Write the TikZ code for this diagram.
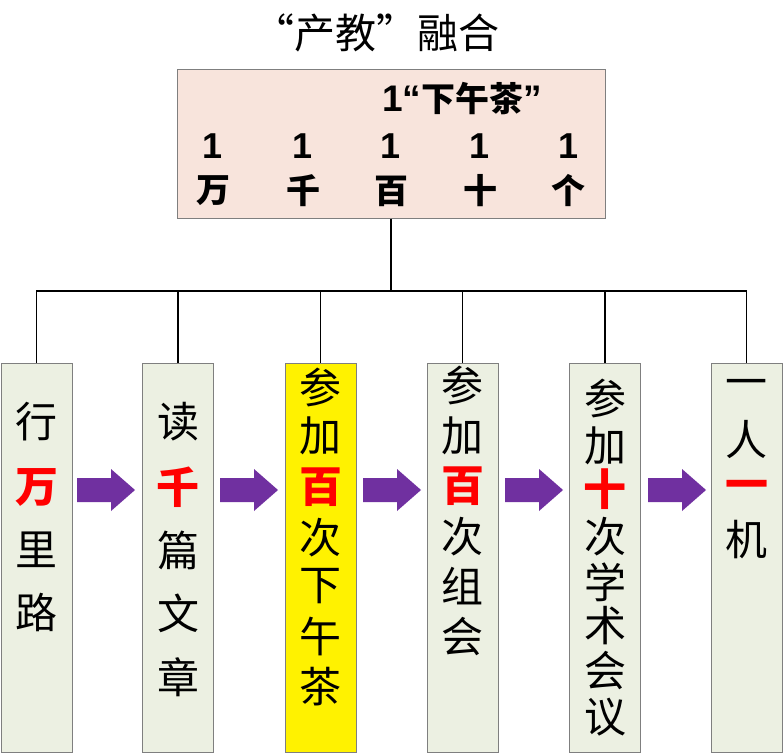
\documentclass[tikz,border=0pt]{standalone}
\usepackage{fontspec}
\setmainfont{Liberation Sans}
\newfontfamily\cjk{Noto Sans CJK SC}
\definecolor{topfill}{HTML}{F8E4DC}
\definecolor{colfill}{HTML}{ECF0E2}
\definecolor{arrowpurple}{HTML}{7030A0}
\definecolor{boxline}{HTML}{7F7F7F}
\begin{document}
\begin{tikzpicture}[x=1pt,y=-1pt,
  topbox/.style={draw=boxline,line width=1pt,fill=topfill,minimum width=428pt,minimum height=148pt,inner sep=0},
  colbox/.style={draw=boxline,line width=1pt,fill=colfill,minimum width=71pt,minimum height=389pt,inner sep=0},
  hlbox/.style={colbox,fill=yellow},
  chk/.style={inner sep=0,font=\cjk\fontsize{42}{42}\selectfont},
  chr/.style={inner sep=0,font=\cjk\bfseries\fontsize{43}{43}\selectfont,text=red},
  digit/.style={inner sep=0,font=\bfseries\fontsize{36}{36}\selectfont},
  unit/.style={inner sep=0,font=\cjk\bfseries\fontsize{34}{34}\selectfont},
  wire/.style={draw=black,line width=1.8pt},
  blockarrow/.style={fill=arrowpurple}]
\useasboundingbox (0,0) rectangle (783,754);
\fill[white] (0,0) rectangle (783,754);
% title
\node[inner sep=0,font=\cjk\fontsize{41}{41}\selectfont] (title) at (376,33) {“产教”融合};
% top box
\node[topbox] (top) at (391,144) {};
\node[inner sep=0,font=\bfseries\fontsize{37}{37}\selectfont] (tea) at (462,99) {1“{\cjk\fontsize{34}{34}\selectfont 下午茶}”};
\foreach \x/\k [count=\n] in {213/万,303/千,391/百,480/十,568/个} {
  \node[digit] (d\n) at (\x,146) {1};
  \node[unit] (u\n) at (\x,191) {\k};
}
% column boxes
\node[colbox] (b1) at (36.5,557.5) {};
\node[colbox] (b2) at (178,557.5) {};
\node[hlbox]  (b3) at (320.5,557.5) {};
\node[colbox] (b4) at (462.5,557.5) {};
\node[colbox] (b5) at (605,557.5) {};
\node[colbox] (b6) at (746.5,557.5) {};
% connectors
\coordinate (bus) at (391,291);
\draw[wire] (top.south) -- (bus);
\foreach \b in {b1,b2,b3,b4,b5,b6} { \draw[wire] (bus) -| (\b.north); }
% block arrows
\foreach \x in {77,220,363,505,648} {
  \fill[blockarrow] (\x,478) -- (\x+34,478) -- (\x+34,469) -- (\x+58,490) -- (\x+34,511) -- (\x+34,502) -- (\x,502) -- cycle;
}
% column texts
\foreach \i/\cx/\lst in {
  1/36.5/{422/行/k,487/万/r,550/里/k,612/路/k},
  2/178/{422/读/k,487/千/r,550/篇/k,613/文/k,677/章/k},
  3/320.5/{387/参/k,436/加/k,487/百/r,538/次/k,586/下/k,636/午/k,687/茶/k},
  4/462.5/{385/参/k,436/加/k,486/百/r,537/次/k,586/组/k,637/会/k},
  5/605/{398/参/k,446/加/k,489/十/r,537/次/k,582/学/k,626/术/k,671/会/k,717/议/k},
  6/746.5/{388/一/k,440/人/k,490/一/r,540/机/k}} {
  \foreach \cy/\ch/\st [count=\j] in \lst {
    \node[ch\st] (c\i-\j) at (\cx,\cy) {\ch};
  }
}
\end{tikzpicture}
\end{document}
